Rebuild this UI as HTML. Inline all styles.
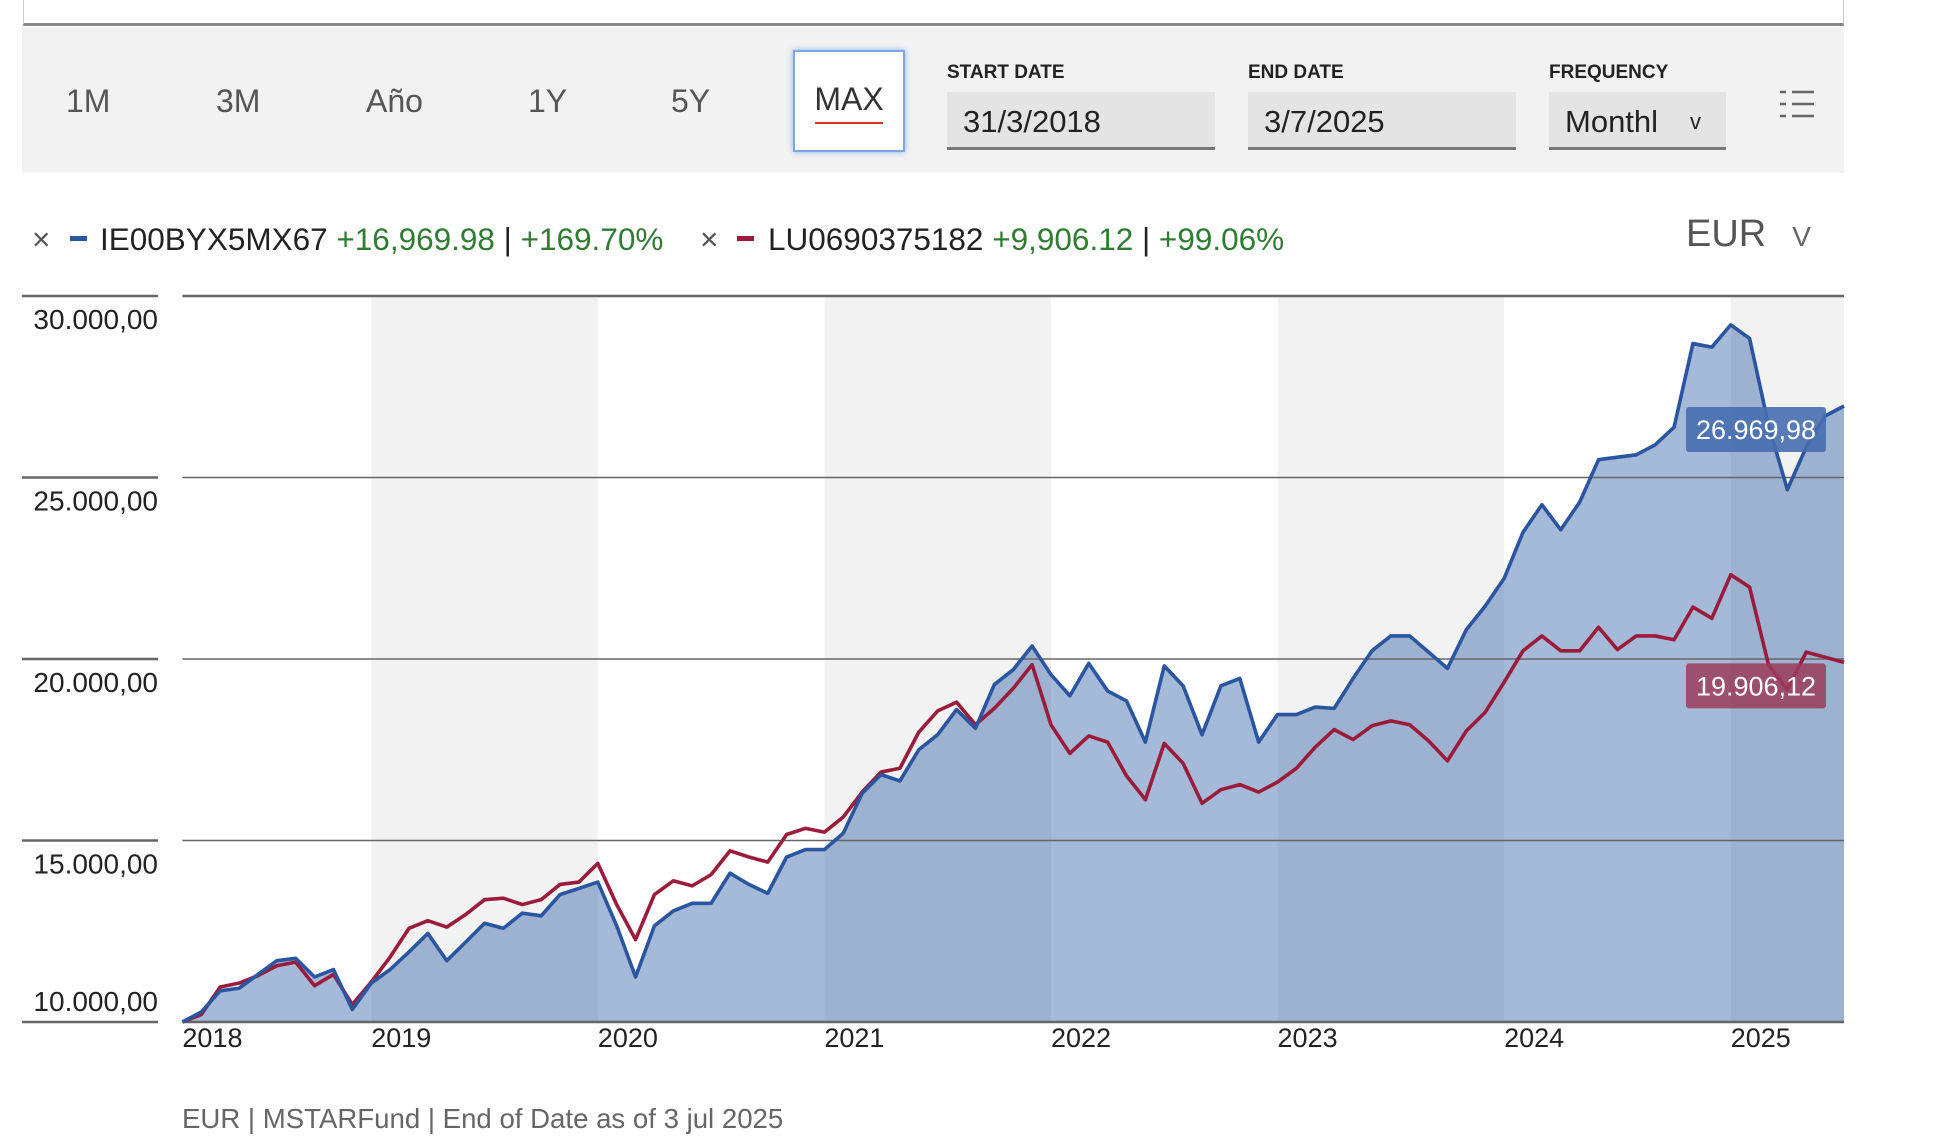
<!DOCTYPE html>
<html><head><meta charset="utf-8"><style>
body{margin:0;width:1958px;height:1144px;background:#fff;font-family:"Liberation Sans",sans-serif;position:relative;overflow:hidden}
.a{position:absolute;white-space:nowrap}
.btn{font-size:32px;color:#555;top:83px}
.lbl{font-size:19px;font-weight:bold;color:#222;top:62px}
.inp{top:92px;height:55px;background:#e4e4e4;border-bottom:3px solid #777;font-size:31px;color:#222;line-height:60px;box-sizing:content-box;padding-left:16px}
.lg{font-size:31.5px;top:221px}
</style></head><body>
<div class="a" style="left:23px;top:0;width:1819px;height:23px;border-left:1px solid #ccc;border-right:1px solid #ccc;border-bottom:3px solid #888"></div>
<div class="a" style="left:22px;top:27px;width:1822px;height:146px;background:#f2f2f2"></div>
<div class="a btn" style="left:66px">1M</div>
<div class="a btn" style="left:216px">3M</div>
<div class="a btn" style="left:366px">Año</div>
<div class="a btn" style="left:528px">1Y</div>
<div class="a btn" style="left:671px">5Y</div>
<div class="a" style="left:793px;top:50px;width:108px;height:98px;background:#fff;border:2px solid #7ea6e6;box-shadow:0 0 6px #8fb3f0"><div style="text-align:center;font-size:32px;color:#333;margin-top:29px">MAX</div><div style="position:absolute;left:20px;top:70px;width:68px;height:2px;background:#d8322a"></div></div>
<div class="a lbl" style="left:947px">START DATE</div>
<div class="a inp" style="left:947px;width:252px">31/3/2018</div>
<div class="a lbl" style="left:1248px">END DATE</div>
<div class="a inp" style="left:1248px;width:252px">3/7/2025</div>
<div class="a lbl" style="left:1549px">FREQUENCY</div>
<div class="a inp" style="left:1549px;width:161px">Monthl<span style="position:absolute;left:141px;font-size:22px">v</span></div>
<svg class="a" style="left:1778px;top:88px" width="40" height="32"><g stroke="#666" stroke-width="2.5"><line x1="2" y1="4" x2="8" y2="4"/><line x1="14" y1="4" x2="36" y2="4"/><line x1="2" y1="16" x2="8" y2="16"/><line x1="14" y1="16" x2="36" y2="16"/><line x1="2" y1="28" x2="8" y2="28"/><line x1="14" y1="28" x2="36" y2="28"/></g></svg>

<div class="a lg" style="left:32px;color:#555">×</div>
<div class="a" style="left:70px;top:236px;width:17px;height:5px;background:#2a55a0"></div>
<div class="a lg" style="left:100px;color:#222">IE00BYX5MX67 <span style="color:#2e7d32">+16,969.98</span> | <span style="color:#2e7d32">+169.70%</span></div>
<div class="a lg" style="left:700px;color:#555">×</div>
<div class="a" style="left:737px;top:236px;width:17px;height:5px;background:#9b1c3a"></div>
<div class="a lg" style="left:768px;color:#222">LU0690375182 <span style="color:#2e7d32">+9,906.12</span> | <span style="color:#2e7d32">+99.06%</span></div>
<div class="a" style="left:1686px;top:213px;font-size:38px;color:#555">EUR<span style="font-size:28px;margin-left:26px;color:#666">V</span></div>

<svg id="chart" class="a" style="left:0;top:0" width="1958" height="1144"></svg>
<div class="a" style="left:182px;top:1103px;font-size:27.6px;color:#666">EUR | MSTARFund | End of Date as of 3 jul 2025</div>
<script>
const startYear = 2018, startMonth = 3;
const yTicks = [10000, 15000, 20000, 25000, 30000];
const yTickLabels = ["10.000,00","15.000,00","20.000,00","25.000,00","30.000,00"];
const yearLabels = ["2018","2019","2020","2021","2022","2023","2024","2025"];
const blueValues = [10000,10275,10860,10930,11310,11690,11755,11240,11445,10345,11070,11445,11930,12440,11690,12200,12720,12580,13000,12925,13510,13680,13855,12650,11240,12650,13060,13270,13270,14100,13790,13545,14545,14750,14750,15200,16300,16815,16640,17500,17915,18605,18090,19295,19705,20360,19570,18985,19880,19120,18845,17710,19810,19260,17915,19260,19465,17710,18470,18470,18675,18640,19465,20225,20635,20635,20190,19740,20810,21460,22220,23490,24250,23560,24320,25490,25560,25625,25900,26385,28690,28590,29205,28830,26450,24665,25835,26695,26970];
const redValues = [10000,10205,10965,11070,11275,11550,11650,11000,11310,10480,11100,11790,12580,12790,12615,12960,13370,13410,13235,13370,13790,13855,14370,13235,12270,13510,13890,13750,14060,14715,14545,14405,15165,15335,15230,15645,16335,16885,16990,17985,18570,18810,18190,18640,19190,19845,18190,17400,17880,17710,16780,16125,17675,17125,16025,16400,16540,16335,16610,16990,17575,18055,17780,18160,18295,18190,17745,17195,18020,18535,19360,20225,20635,20225,20225,20875,20260,20635,20635,20530,21430,21120,22320,21980,19845,19155,20190,20050,19906];
const lastLabels = ["26.969,98","19.906,12"];

const NS="http://www.w3.org/2000/svg", svg=document.getElementById('chart');
const X0=182.4, X1=1844, Y0=1022, Y1=296, VMIN=10000, VMAX=30000;
const nPts = blueValues.length;
const xs = i => X0 + i*(X1-X0)/(nPts-1);
const ys = v => Y0 - (v-VMIN)/(VMAX-VMIN)*(Y0-Y1);
function mk(t,a){const e=document.createElementNS(NS,t);for(const k in a)e.setAttribute(k,a[k]);svg.appendChild(e);return e;}
yearLabels.forEach((y,k)=>{
  const i = k===0?0:(12-startMonth+1)+(k-1)*12;
  if(k%2===1){
    const x=xs(i), xe=Math.min(xs(i+12),X1);
    const r=mk('rect',{x:x,y:Y1,width:xe-x,height:Y0-Y1,fill:'#f2f2f2'});
    
    
  }
  const t=mk('text',{x:xs(i),y:1047,'font-size':27,fill:'#222','font-family':'Liberation Sans, sans-serif'});
  t.textContent=y;
  
  
});
let d='M'+xs(0)+','+Y0;
blueValues.forEach((v,i)=>d+=' L'+xs(i)+','+ys(v));
d+=' L'+xs(nPts-1)+','+Y0+' Z';
const ar=mk('path',{d:d,fill:'rgba(30,80,160,0.4)'});


yTicks.forEach((v,k)=>{
  const y=ys(v);
  const g=mk('line',{x1:X0,x2:X1,y1:y,y2:y,stroke:'#666','stroke-width':k===0||k===4?2.5:1.5});
  
  
  mk('line',{x1:22,x2:158,y1:y,y2:y,stroke:'#666','stroke-width':2.5});
  const t=mk('text',{x:158,y:k===0?y-11:y+33,'font-size':28,fill:'#222','text-anchor':'end','font-family':'Liberation Sans, sans-serif'});
  t.textContent=yTickLabels[k];
  
  
});
function line(vals,col,name){
  const p=mk('polyline',{points:vals.map((v,i)=>xs(i)+','+ys(v)).join(' '),fill:'none',stroke:col,'stroke-width':3.6,'stroke-linejoin':'round'});
  
  
}
line(redValues,'#9b1c3a','series-lu0690375182');
line(blueValues,'#2a55a0','series-ie00byx5mx67');
function tag(v,txt,col,name){
  const y=ys(v)+1;
  const r=mk('rect',{x:1686,y:y,width:140,height:45,rx:3,fill:col});
  
  
  const t=mk('text',{x:1756,y:y+32,'font-size':27,fill:'#fff','text-anchor':'middle','font-family':'Liberation Sans, sans-serif'});
  t.textContent=txt;
  
  
}
tag(blueValues[nPts-1],lastLabels[0],'rgba(70,110,175,0.9)','last-value-blue');
tag(redValues[nPts-1],lastLabels[1],'rgba(155,60,90,0.85)','last-value-red');
</script>
</body></html>
